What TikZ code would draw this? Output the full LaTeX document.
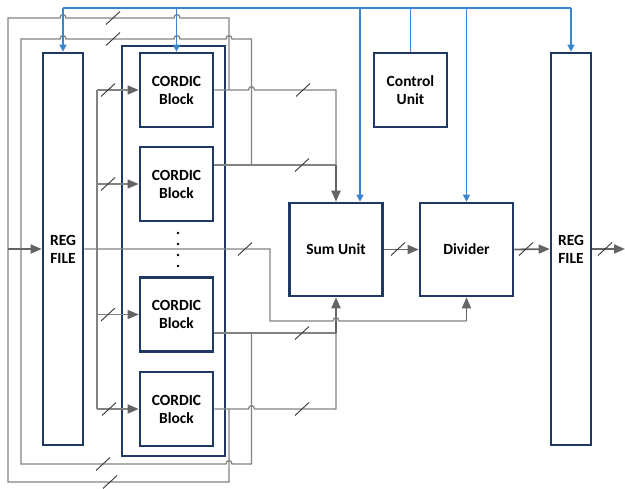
\documentclass[tikz,border=0pt]{standalone}
\usepackage{fontspec}
\setmainfont{Carlito}
\usetikzlibrary{arrows.meta,calc}
\definecolor{navy}{RGB}{31,56,100}
\definecolor{cblue}{RGB}{58,134,206}
\definecolor{gline}{RGB}{130,130,130}
\definecolor{gdark}{RGB}{100,100,100}
\definecolor{tickc}{RGB}{55,55,55}
\begin{document}
\begin{tikzpicture}[x=1pt,y=-1pt,
  box/.style={draw=navy,line width=2.6pt,fill=white,inner sep=0pt,align=center,
    font=\bfseries\fontsize{15.5}{18}\selectfont},
  g/.style={draw=gline,line width=1.3pt},
  gd/.style={draw=gdark,line width=1.8pt},
  gtip/.style={-{Triangle[length=11pt,width=9pt,color=gdark]}},
  bl/.style={draw=cblue,line width=1.3pt},
  btip/.style={-{Triangle[length=7pt,width=7pt,color=cblue]}},
  tick/.pic={\draw[line width=0.9pt,tickc] (-7,6.5) -- (7,-6.5);}
]
\useasboundingbox (0,0) rectangle (625,489);

% ---------- boxes ----------
\node[box,minimum width=40,minimum height=392] (regL) at (63,249) {REG\\FILE};
\node[box,minimum width=103,minimum height=410] (cont) at (173.5,251) {};
\node[box,minimum width=73,minimum height=74] (c1) at (176.5,90) {CORDIC\\Block};
\node[box,minimum width=73,minimum height=74] (c2) at (176.5,184) {CORDIC\\Block};
\node[box,minimum width=73,minimum height=74] (c3) at (176.5,314.5) {CORDIC\\Block};
\node[box,minimum width=73,minimum height=74] (c4) at (176.5,409) {CORDIC\\Block};
\node[box,minimum width=73,minimum height=74] (cu) at (410.5,90) {Control\\Unit};
\node[box,minimum width=40,minimum height=392] (regR) at (571,249) {REG\\FILE};
\node[box,minimum width=93,minimum height=93] (sum) at (336,249.5) {Sum Unit};
\node[box,minimum width=93,minimum height=93] (div) at (466.5,249.5) {Divider};
\foreach \yy in {233,244,255,266} \fill[black] (178,\yy) circle (1.4);

% ---------- junction coordinates ----------
\coordinate (jA1) at (229,90);
\coordinate (jA4) at (229,409);
\coordinate (jB2) at (251.5,165);
\coordinate (jB3) at (251.5,333);
\coordinate (sT) at (336,165);
\coordinate (sB) at (336,333);
\coordinate (in) at (8,249);
\coordinate (out) at (625,249);
\coordinate (fan) at (97,90);
\coordinate (dv) at (466.5,321);

% ---------- feedback loops ----------
\draw[g] (jA1) -- (229,18) -- (180,18) .. controls (180,13.5) and (174,13.5) .. (174,18)
  -- (66,18) .. controls (66,13.5) and (60,13.5) .. (60,18) -- (8,18) -- (8,482)
  -- (229,482) -- (jA4);
\draw[g] (jB2) -- (251.5,39) -- (232,39) .. controls (232,34.5) and (226,34.5) .. (226,39)
  -- (180,39) .. controls (180,34.5) and (174,34.5) .. (174,39)
  -- (66,39) .. controls (66,34.5) and (60,34.5) .. (60,39) -- (21,39) -- (21,464)
  -- (226,464) .. controls (226,459.5) and (232,459.5) .. (232,464) -- (251.5,464) -- (jB3);

% ---------- CORDIC outputs ----------
\draw[g] (c1.east) -- (248.5,90) .. controls (248.5,85.5) and (254.5,85.5) .. (254.5,90) -- (336,90) -- (sT);
\draw[g] ([yshift=19pt]c2.east) -- (sT);
\draw[gd,gtip] (sT) -- (sum.north);
\draw[g] ([yshift=-18.5pt]c3.east) -- (sB);
\draw[g] (c4.east) -- (248.5,409) .. controls (248.5,404.5) and (254.5,404.5) .. (254.5,409) -- (336,409) -- (sB);
\draw[gd,gtip] (sB) -- (sum.south);

% ---------- REG FILE outputs ----------
\draw[g] (regL.east) -- (270,249) -- (270,321) -- (333,321) .. controls (333,316.5) and (339,316.5) .. (339,321) -- (dv);
\draw[gd,gtip] (dv) -- (div.south);
\draw[g] (fan) -- (97,409);
\draw[g,gtip] (fan) -- (c1.west);
\draw[g,gtip] (c2.west -| fan) -- (c2.west);
\draw[g,gtip] (c3.west -| fan) -- (c3.west);
\draw[g,gtip] (c4.west -| fan) -- (c4.west);
\draw[gd,gtip] (in) -- (regL.west);

% ---------- datapath ----------
\draw[gd,gtip] (sum.east) -- (div.west);
\draw[gd,gtip] (div.east) -- (regR.west);
\draw[gd,gtip] (regR.east) -- (out);

% ---------- control lines ----------
\coordinate (busL) at (63,8);
\coordinate (busR) at (571,8);
\draw[bl] (busL) -- (busR);
\draw[bl,btip] (busL) -- (regL.north);
\draw[bl,btip] (c1.north |- busL) -- (c1.north);
\draw[bl,btip] ([xshift=24pt]sum.north |- busL) -- ([xshift=24pt]sum.north);
\draw[bl] (cu.north) -- (cu.north |- busL);
\draw[bl,btip] (div.north |- busL) -- (div.north);
\draw[bl,btip] (busR) -- (regR.north);

% ---------- bus width ticks ----------
\foreach \p in {(113,18),(113,39),(103,464),(110,482),
  (108,90),(108,184),(108,314.5),(109,409),
  (303,90),(302,165),(302,333),(302,409),
  (245,249),(398,249),(526,249),(605,249)}
  \pic at \p {tick};
\end{tikzpicture}
\end{document}
